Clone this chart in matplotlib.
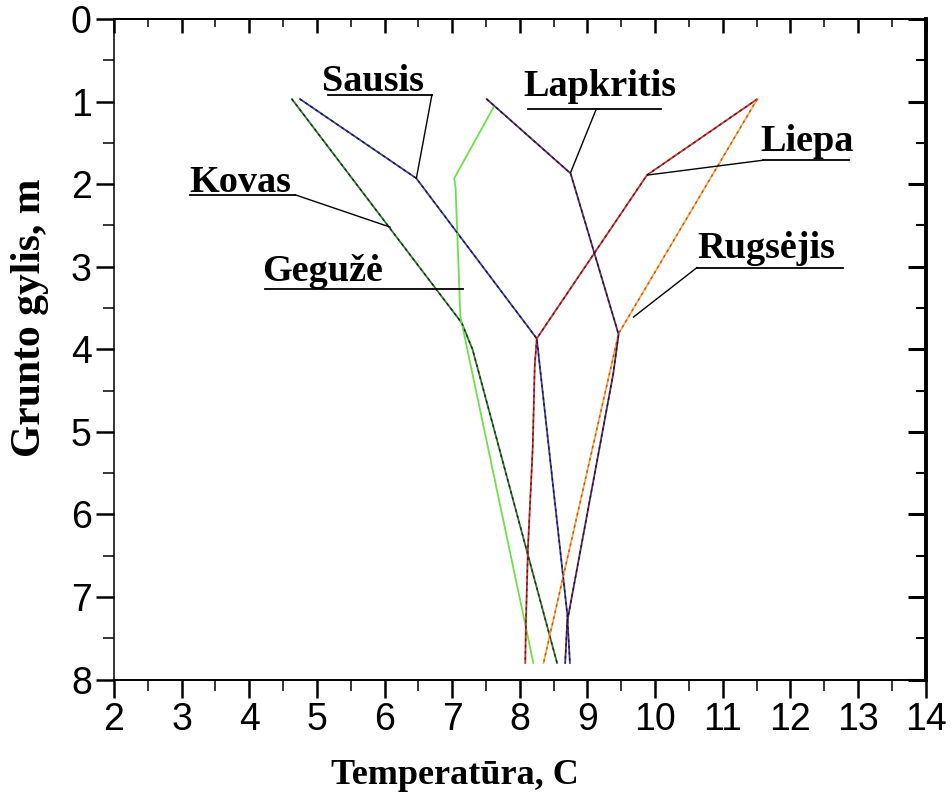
import matplotlib
matplotlib.use("Agg")
import matplotlib.pyplot as plt
from matplotlib.ticker import MultipleLocator

# Soil temperature profiles by month: temperature (C) vs depth (m)
sausis_t = [4.75, 6.47, 8.25, 8.70, 8.74]
sausis_d = [0.97, 1.93, 3.87, 7.20, 7.80]

kovas_t = [4.63, 7.14, 7.30, 8.55]
kovas_d = [0.97, 3.68, 4.00, 7.80]

geguze_t = [7.61, 7.03, 7.05, 7.12, 8.20]
geguze_d = [1.07, 1.93, 2.05, 3.60, 7.80]

liepa_t = [11.51, 9.88, 8.25, 8.22, 8.19, 8.12, 8.09, 8.08]
liepa_d = [0.97, 1.89, 3.87, 4.20, 5.20, 6.40, 7.30, 7.80]

rugsejis_t = [11.51, 9.46, 8.35]
rugsejis_d = [0.97, 3.81, 7.80]

lapkritis_t = [7.51, 8.75, 9.46, 9.38, 8.70, 8.67]
lapkritis_d = [0.97, 1.87, 3.82, 4.30, 7.30, 7.80]

x_ticks = [2, 3, 4, 5, 6, 7, 8, 9, 10, 11, 12, 13, 14]
y_ticks = [0, 1, 2, 3, 4, 5, 6, 7, 8]

SANS = ["Liberation Sans", "DejaVu Sans"]
SERIF = ["Liberation Serif", "DejaVu Serif"]

fig = plt.figure(figsize=(9.52, 7.96), dpi=100)
ax = fig.add_axes([114 / 952, 1 - 679.5 / 796, (925.7 - 114) / 952, (679.5 - 19) / 796])

# (temps, depths, line colour, dotted overlay colour or None)
series = [
    (sausis_t, sausis_d, "#3a3f9a", "#1a1a2a"),
    (kovas_t, kovas_d, "#2f7a2f", "#1a2a1a"),
    (geguze_t, geguze_d, "#6fe04a", None),
    (liepa_t, liepa_d, "#c83232", "#5a1a1a"),
    (rugsejis_t, rugsejis_d, "#f5b040", "#d04a30"),
    (lapkritis_t, lapkritis_d, "#5a2a6a", "#1a1a1a"),
]
for t, d, c, dot in series:
    ax.plot(t, d, color=c, lw=1.3, solid_joinstyle="miter", zorder=3)
    if dot is not None:
        ax.plot(t, d, color=dot, lw=1.0, linestyle=(0, (2, 2.5)), zorder=4)

# Labels with underline and leader line: text pos, underline span, leader start/end
labels = [
    ("Sausis", 5.08, 0.87, (5.17, 6.70, 0.92), (6.70, 0.92, 6.47, 1.93)),
    ("Kovas", 3.12, 2.09, (3.12, 4.68, 2.13), (4.68, 2.13, 6.08, 2.52)),
    ("Gegužė", 4.19, 3.17, (4.23, 7.16, 3.27), None),
    ("Lapkritis", 8.05, 0.93, (8.12, 10.08, 1.09), (9.13, 1.09, 8.75, 1.86)),
    ("Liepa", 11.56, 1.60, (11.60, 12.86, 1.71), (11.60, 1.71, 9.89, 1.89)),
    ("Rugsėjis", 10.62, 2.90, (10.62, 12.77, 3.01), (10.62, 3.01, 9.68, 3.61)),
]
for txt, tx, ty, ul, ld in labels:
    ax.text(tx, ty, txt, fontsize=27.5, fontweight="bold", family=SERIF,
            ha="left", va="baseline", zorder=5)
    ax.plot([ul[0], ul[1]], [ul[2], ul[2]], color="black", lw=1.3, zorder=5)
    if ld is not None:
        ax.plot([ld[0], ld[2]], [ld[1], ld[3]], color="black", lw=1.0, zorder=5)

ax.set_xlim(2, 14)
ax.set_ylim(8, 0)
ax.set_xticks(x_ticks)
ax.set_yticks(y_ticks)
ax.xaxis.set_minor_locator(MultipleLocator(0.5))
ax.yaxis.set_minor_locator(MultipleLocator(0.5))
ax.tick_params(axis="both", which="major", direction="out", length=13, width=1.8,
               labelsize=27, pad=3)
ax.tick_params(axis="both", which="minor", direction="out", length=8, width=1.1)
for lab in ax.get_xticklabels() + ax.get_yticklabels():
    lab.set_family(SANS)

# Inward ticks along top and right edges
top = ax.secondary_xaxis("top")
top.set_xticks(x_ticks)
top.xaxis.set_minor_locator(MultipleLocator(0.5))
top.tick_params(which="major", direction="in", length=10, width=1.8, labeltop=False)
top.tick_params(which="minor", direction="in", length=6, width=1.1)
top.spines["top"].set_linewidth(1.4)

right = ax.secondary_yaxis("right")
right.set_yticks(y_ticks)
right.yaxis.set_minor_locator(MultipleLocator(0.5))
right.tick_params(which="major", direction="in", length=13, width=2.2, labelright=False)
right.tick_params(which="minor", direction="in", length=7, width=1.5)
right.spines["right"].set_linewidth(2.6)

ax.spines["left"].set_linewidth(1.1)
ax.spines["bottom"].set_linewidth(1.4)
ax.spines["top"].set_linewidth(1.4)
ax.spines["right"].set_linewidth(2.6)

fig.text(455 / 952, 1 - 776 / 796, "Temperatūra, C", fontsize=26, fontweight="bold",
         family=SERIF, ha="center", va="center")
fig.text(30 / 952, 1 - 318 / 796, "Grunto gylis, m", fontsize=30, fontweight="bold",
         family=SERIF, ha="center", va="center", rotation=90)

fig.savefig("out.png", dpi=100, facecolor="white")
